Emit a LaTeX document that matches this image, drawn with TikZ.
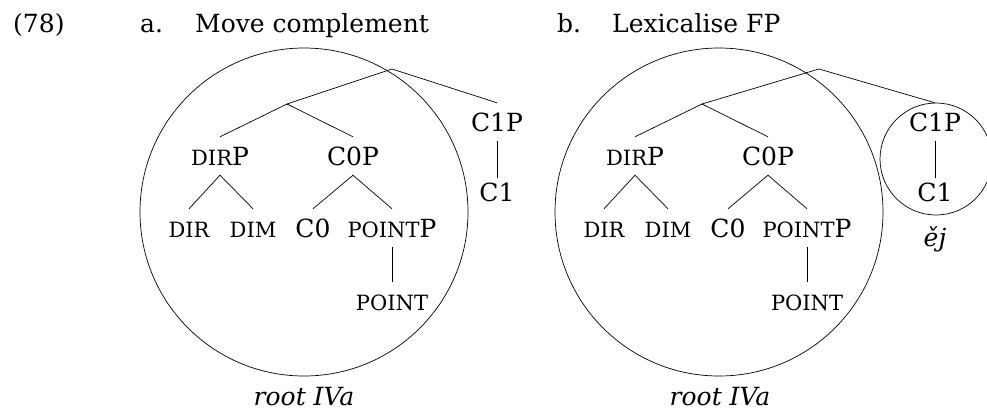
\documentclass[tikz,border=0pt]{standalone}
\usepackage{fontspec}
\setmainfont{DejaVu Serif}
\usepackage{tikz}
\usetikzlibrary{calc}
\newcommand{\fsc}[1]{{\fontsize{21}{24}\selectfont #1}}
\tikzset{
  lab/.style={inner xsep=1pt, inner ysep=10pt, text height=18pt, text depth=0pt, anchor=base},
  head/.style={inner sep=0pt, anchor=base west},
  ring/.style={line width=0.7pt},
  branch/.style={line width=0.7pt}
}

\begin{document}
\begin{tikzpicture}[x=1pt, y=-1pt, font=\fontsize{25}{30}\selectfont]
\useasboundingbox (0,0) rectangle (987,413);
% Headings
\node[head] (exno) at (13,32) {(78)};
\node[head] (hda) at (140,32) {a.};
\node[head] (tta) at (195,32) {Move complement};
\node[head] (hdb) at (557,32) {b.};
\node[head] (ttb) at (612,32) {Lexicalise FP};

% (a) Move complement
\draw[ring] (304,212) circle (164);
\coordinate (ta) at (392,69);
\coordinate (ia) at (287,104);
\node[lab] (dirp) at (220,165) {\fsc{DIR}P};
\node[lab] (cop) at (353,165) {C0P};
\node[lab] (dir) at (189,237) {\fsc{DIR}};
\node[lab] (dim) at (253,237) {\fsc{DIM}};
\node[lab] (co) at (313,237) {C0};
\node[lab] (pointp) at (392,237) {\fsc{POINT}P};
\node[lab] (point) at (392,310) {\fsc{POINT}};
\node[lab] (cip) at (497,131) {C1P};
\node[lab, inner ysep=5pt] (ci) at (497,201) {C1};
\draw[branch] (cip.north) -- (ta) -- (ia);
\draw[branch] (dirp.north) -- (ia) -- (cop.north);
\draw[branch] (dir.north) -- (dirp.south) -- (dim.north);
\draw[branch] (co.north) -- (cop.south) -- (pointp.north);
\draw[branch] (pointp.south) -- (point.north);
\draw[branch] (cip.south) -- (ci.north);
\node[lab] (roota) at (304,405) {\itshape root IVa};

% (b) Lexicalise FP
\draw[ring] (719,212) circle (164);
\draw[ring] (936,159) circle (56);
\coordinate (tb) at (819,69);
\coordinate (ib) at (702,104);
\node[lab] (dirpb) at (635,165) {\fsc{DIR}P};
\node[lab] (copb) at (768,165) {C0P};
\node[lab] (dirb) at (604,237) {\fsc{DIR}};
\node[lab] (dimb) at (668,237) {\fsc{DIM}};
\node[lab] (cob) at (728,237) {C0};
\node[lab] (pointpb) at (807,237) {\fsc{POINT}P};
\node[lab] (pointb) at (807,310) {\fsc{POINT}};
\node[lab] (cipb) at (935,131) {C1P};
\node[lab, inner ysep=5pt] (cib) at (935,201) {C1};
\draw[branch] (cipb.north) -- (tb) -- (ib);
\draw[branch] (dirpb.north) -- (ib) -- (copb.north);
\draw[branch] (dirb.north) -- (dirpb.south) -- (dimb.north);
\draw[branch] (cob.north) -- (copb.south) -- (pointpb.north);
\draw[branch] (pointpb.south) -- (pointb.north);
\draw[branch] (cipb.south) -- (cib.north);
\node[lab] (lex) at (935,246) {\itshape ěj};
\node[lab] (rootb) at (720,405) {\itshape root IVa};
\end{tikzpicture}
\end{document}
